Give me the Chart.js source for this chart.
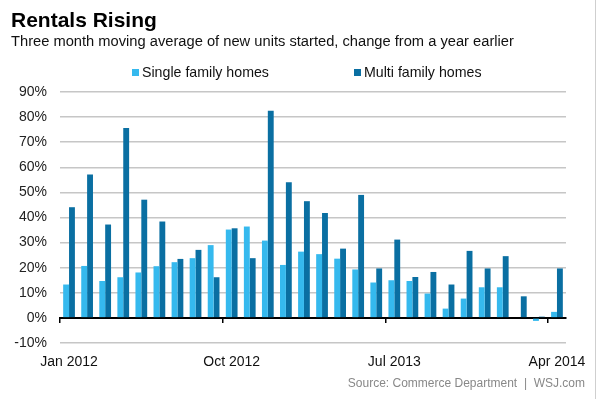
<!DOCTYPE html>
<html>
<head>
<meta charset="utf-8">
<script src="https://cdn.jsdelivr.net/npm/chart.js@4/dist/chart.umd.min.js"></script>
<style>
  body { margin: 0; background: #fff; font-family: 'Liberation Sans', Arial, sans-serif; }
  #wrap { position: relative; width: 600px; height: 399px; overflow: hidden; }
  #chart { position: absolute; left: 0; top: 0; }
  .txt { position: absolute; white-space: nowrap; }
  #title { left: 11px; top: 9px; font-size: 21px; line-height: 21px; font-weight: bold; color: #000; }
  #subtitle { left: 11px; top: 34px; font-size: 14.7px; line-height: 15px; color: #111; }
  #source { right: 15px; top: 377px; font-size: 12px; line-height: 12px; color: #888; }
  .lg { position: absolute; top: 65px; font-size: 14.2px; line-height: 15px; color: #111; white-space: nowrap; }
  .lg i { display: inline-block; width: 7px; height: 7px; margin-right: 3px; vertical-align: 1px; }
  #edge { position: absolute; left: 595px; top: 0; width: 1px; height: 399px; background: #cfcfcf; }
</style>
</head>
<body>
<div id="wrap">
  <canvas id="chart" width="600" height="399"></canvas>
  <div class="txt" id="title">Rentals Rising</div>
  <div class="txt" id="subtitle">Three month moving average of new units started, change from a year earlier</div>
  <div id="legend"></div>
  <div class="txt" id="source">Source: Commerce Department&nbsp; |&nbsp; WSJ.com</div>
  <div id="edge"></div>
</div>
<script>
// ---- data (percent change from a year earlier) ----
const months = [
  'Jan 2012', 'Feb 2012', 'Mar 2012', 'Apr 2012', 'May 2012', 'Jun 2012', 'Jul 2012',
  'Aug 2012', 'Sep 2012', 'Oct 2012', 'Nov 2012', 'Dec 2012', 'Jan 2013', 'Feb 2013',
  'Mar 2013', 'Apr 2013', 'May 2013', 'Jun 2013', 'Jul 2013', 'Aug 2013', 'Sep 2013',
  'Oct 2013', 'Nov 2013', 'Dec 2013', 'Jan 2014', 'Feb 2014', 'Mar 2014', 'Apr 2014'
];
const shownMonths = ['Jan 2012', 'Oct 2012', 'Jul 2013', 'Apr 2014'];
const seriesNames = ['Single family homes', 'Multi family homes'];
const singleFamily = [13.3, 20.7, 14.7, 16.2, 18.1, 20.6, 22.2, 23.8, 29.0, 35.2, 36.4, 30.8, 21.1, 26.4,
  25.4, 23.6, 19.3, 14.1, 15.0, 14.7, 9.7, 3.7, 7.7, 12.2, 12.2, null, -1.2, 2.4];
const multiFamily = [44.1, 57.1, 37.2, 75.7, 47.1, 38.4, 23.5, 27.1, 16.2, 35.7, 23.8, 82.5, 54.0, 46.5,
  41.8, 27.6, 49.0, 19.7, 31.2, 16.3, 18.3, 13.3, 26.7, 19.7, 24.6, 8.6, 0.5, 19.7];
const yTicks = { min: -10, max: 90, step: 10 };

const colors = ['#35b9ee', '#0a6fa2'];
const font = "'Liberation Sans', Arial, sans-serif";

// legend built from the series names
document.getElementById('legend').innerHTML = seriesNames.map((name, i) =>
  `<div class="lg" style="left:${i ? 354 : 132}px"><i style="background:${colors[i]}"></i>${name}</div>`
).join('');

const isShown = idx => shownMonths.includes(months[idx]);

new Chart(document.getElementById('chart'), {
  type: 'bar',
  data: {
    labels: months,
    datasets: [
      { label: seriesNames[0], data: singleFamily, backgroundColor: colors[0] },
      { label: seriesNames[1], data: multiFamily, backgroundColor: colors[1] }
    ]
  },
  options: {
    responsive: false,
    animation: false,
    events: [],
    categoryPercentage: 0.65,
    barPercentage: 1.0,
    layout: { padding: { top: 92, right: 34, bottom: 0, left: 0 } },
    plugins: { legend: { display: false }, tooltip: { enabled: false } },
    scales: {
      x: {
        offset: true,
        grid: { display: false, drawTicks: false },
        border: { display: false },
        ticks: {
          autoSkip: false, maxRotation: 0, padding: 11,
          color: '#111', font: { family: font, size: 14 },
          callback: (v, i) => isShown(i) ? months[i] : ''
        },
        afterFit: s => { s.height = 56; }
      },
      x2: {
        type: 'category',
        axis: 'x',
        position: { y: 0 },
        offset: true,
        z: 1,
        grid: {
          offset: true, drawOnChartArea: false, drawTicks: true, tickLength: 4, lineWidth: 1.5,
          color: ctx => isShown(ctx.index) ? '#000' : 'rgba(0,0,0,0)'
        },
        border: { display: true, color: '#000', width: 2 },
        ticks: { display: false }
      },
      y: {
        min: yTicks.min,
        max: yTicks.max,
        grid: {
          drawTicks: false, lineWidth: 1.5,
          color: ctx => ctx.tick && ctx.tick.value === 0 ? '#000' : '#c6c6c6'
        },
        border: { display: false },
        ticks: {
          stepSize: yTicks.step, padding: 13,
          color: '#222', font: { family: font, size: 14 },
          callback: v => v + '%'
        },
        afterFit: s => { s.width = 60; }
      }
    }
  }
});
</script>
</body>
</html>
